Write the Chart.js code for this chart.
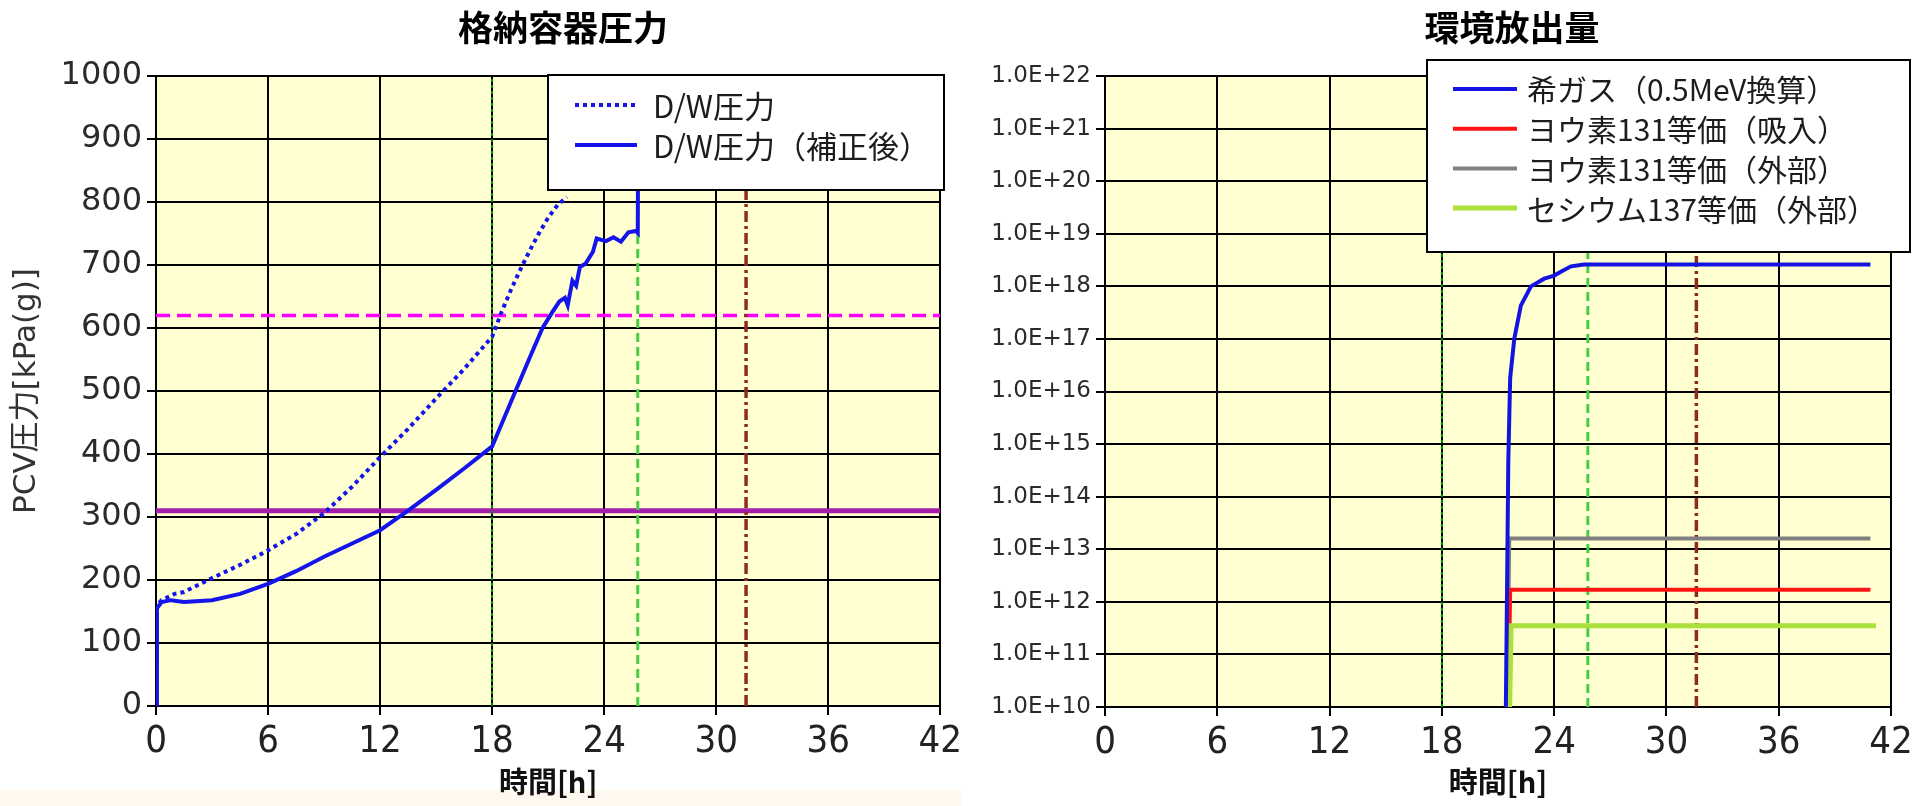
<!DOCTYPE html>
<html lang="ja">
<head>
<meta charset="utf-8">
<title>格納容器圧力・環境放出量</title>
<script src="https://cdn.jsdelivr.net/npm/chart.js@4.4.1/dist/chart.umd.min.js"></script>
<style>
  html, body { margin: 0; padding: 0; background: #ffffff; }
  body { width: 1926px; height: 806px; position: relative; overflow: hidden; }
  #band { position: absolute; left: 0; top: 790px; width: 962px; height: 16px; background: #FFF8EE; }
  .panel { position: absolute; top: 0; height: 806px; }
  #left { left: 0; width: 966px; }
  #right { left: 966px; width: 960px; }
</style>
</head>
<body>
<div id="band"></div>
<div class="panel" id="left"><canvas id="pressureChart" width="966" height="806"></canvas></div>
<div class="panel" id="right"><canvas id="releaseChart" width="960" height="806"></canvas></div>
<script>
// ---- axis ticks ----
const hourTicks = [0, 6, 12, 18, 24, 30, 36, 42];
const pressureTicks = [0, 100, 200, 300, 400, 500, 600, 700, 800, 900, 1000];
const releaseExponents = [10, 11, 12, 13, 14, 15, 16, 17, 18, 19, 20, 21, 22];

// ---- D/W pressure [kPa(g)] ----
const dwHours    = [0, 0.05, 0.3, 1.0, 1.5, 3, 4.5, 6, 7.5, 9, 10.5, 12, 13.5, 15, 16.5, 18, 18.5, 19, 19.5, 20, 20.5, 21, 21.5, 22.0];
const dwPressure = [0, 160, 168, 178, 181, 203, 224, 247, 273, 306, 348, 395, 440, 488, 535, 586, 625, 660, 692, 722, 750, 775, 795, 808];

// ---- D/W pressure, corrected [kPa(g)] ----
const dwCorrHours    = [0, 0.05, 0.3, 0.8, 1.5, 3, 4.5, 6, 7.5, 9, 10.5, 12, 13.5, 15, 16.5, 18, 19, 20, 20.7, 21.2, 21.6, 21.9, 22.05, 22.3, 22.5, 22.7, 23.0, 23.4, 23.6, 24.1, 24.5, 24.9, 25.3, 25.7, 25.8, 25.82];
const dwCorrPressure = [0, 155, 165, 168, 165, 168, 178, 194, 214, 237, 258, 279, 310, 343, 377, 412, 482, 552, 600, 624, 642, 648, 636, 675, 667, 697, 702, 721, 742, 738, 744, 737, 752, 754, 751, 900];

// ---- reference levels ----
const pressureLevels = [310, 620];      // solid / dashed horizontal lines
const eventHours = [18, 25.8, 31.6];    // dotted / dashed / dash-dot vertical lines

// ---- environmental release ----
const nobleGasHours   = [21.42, 21.48, 21.55, 21.65, 21.87, 22.22, 22.76, 23.47, 24.0, 24.36, 24.9, 25.6, 26.0, 40.9];
const nobleGasRelease = [1e10, 1.3e12, 4.7e14, 1.8e16, 1.0e17, 4.3e17, 1.0e18, 1.4e18, 1.6e18, 1.9e18, 2.4e18, 2.6e18, 2.6e18, 2.6e18];
const iodineInhHours   = [21.55, 21.65, 40.9];
const iodineInhRelease = [1e10, 1.7e12, 1.7e12];
const iodineExtHours   = [21.5, 21.6, 40.9];
const iodineExtRelease = [1e10, 1.6e13, 1.6e13];
const cesiumHours   = [21.62, 21.7, 41.2];
const cesiumRelease = [1e10, 3.5e11, 3.5e11];

const pts = (xs, ys) => xs.map((x, i) => ({ x: x, y: ys[i] }));

const CJK = "'Noto Sans CJK JP', 'Noto Sans', sans-serif";
const NARROW = "'Liberation Sans Narrow', 'DejaVu Sans Condensed', 'Liberation Sans', sans-serif";

// plot background, title and boxed legend
const panelDecor = {
  id: 'panelDecor',
  beforeDraw(chart, args, opts) {
    const { ctx, chartArea: a } = chart;
    ctx.save();
    ctx.fillStyle = opts.plotColor;
    ctx.fillRect(a.left, a.top, a.right - a.left, a.bottom - a.top);
    ctx.restore();
  },
  afterDraw(chart, args, opts) {
    const ctx = chart.ctx;
    ctx.save();
    ctx.font = opts.titleFont;
    ctx.fillStyle = '#000';
    ctx.textAlign = 'center';
    ctx.textBaseline = 'middle';
    ctx.fillText(opts.title, opts.titleX, opts.titleY);

    const b = opts.legend;
    ctx.fillStyle = '#ffffff';
    ctx.fillRect(b.x, b.y, b.w, b.h);
    ctx.lineWidth = 2;
    ctx.strokeStyle = '#000';
    ctx.strokeRect(b.x, b.y, b.w, b.h);
    chart.data.datasets.filter(d => d.inLegend).forEach((d, i) => {
      const y = b.firstRow + i * b.rowGap;
      ctx.beginPath();
      ctx.setLineDash(d.borderDash || []);
      ctx.lineWidth = d.borderWidth;
      ctx.strokeStyle = d.borderColor;
      ctx.moveTo(b.sampleX, y);
      ctx.lineTo(b.sampleX + b.sampleLen, y);
      ctx.stroke();
      ctx.setLineDash([]);
      ctx.fillStyle = '#1c1c1c';
      ctx.font = b.font;
      ctx.textAlign = 'left';
      ctx.textBaseline = 'middle';
      ctx.fillText(d.label, b.textX, y + 1);
    });
    ctx.restore();
  }
};

function hLine(v, x0, x1, color, width, dash) {
  return { data: pts([x0, x1], [v, v]), borderColor: color, borderWidth: width, borderDash: dash, order: 5 };
}
function vLine(h, y0, y1, color, width, dash) {
  return { data: pts([h, h], [y0, y1]), borderColor: color, borderWidth: width, borderDash: dash, order: 4 };
}

const eventStyles = [
  ['rgb(0,140,0)', 2, [3, 3]],
  ['rgb(70,205,70)', 3, [9, 5]],
  ['rgb(140,45,25)', 3.5, [11, 4, 3, 4]]
];

function xAxis(height) {
  return {
    type: 'linear',
    min: hourTicks[0],
    max: hourTicks[hourTicks.length - 1],
    afterBuildTicks: s => { s.ticks = hourTicks.map(v => ({ value: v })); },
    afterFit: s => { s.height = height; },
    grid: { color: '#000', lineWidth: 2, tickLength: 9 },
    border: { color: '#000', width: 2 },
    ticks: { color: '#222', padding: 4, maxRotation: 0, autoSkip: false,
             font: { family: NARROW, size: 38, lineHeight: 1.2 },
             callback: v => String(v) },
    title: { display: true, text: '時間[h]', color: '#111',
             font: { family: CJK, size: 29, weight: 'bold', lineHeight: 1.2 },
             padding: { top: 0, bottom: 7 } }
  };
}

const common = {
  type: 'line',
  options: {
    responsive: false,
    animation: false,
    events: [],
    elements: { point: { radius: 0 }, line: { tension: 0, borderCapStyle: 'butt' } },
    plugins: { legend: { display: false }, tooltip: { enabled: false } }
  }
};

// ---------- 格納容器圧力 ----------
const pressureDatasets = [
  { label: 'D/W圧力', inLegend: true, data: pts(dwHours, dwPressure),
    borderColor: 'rgb(20,20,235)', borderWidth: 4, borderDash: [4, 4], order: 1 },
  { label: 'D/W圧力（補正後）', inLegend: true, data: pts(dwCorrHours, dwCorrPressure),
    borderColor: 'rgb(20,20,235)', borderWidth: 4, order: 0 },
  hLine(pressureLevels[0], hourTicks[0], hourTicks[hourTicks.length - 1], 'rgb(165,30,170)', 5, []),
  hLine(pressureLevels[1], hourTicks[0], hourTicks[hourTicks.length - 1], 'rgb(255,0,255)', 3.5, [14, 7]),
  ...eventHours.map((h, i) => vLine(h, pressureTicks[0], pressureTicks[pressureTicks.length - 1], ...eventStyles[i]))
];

new Chart(document.getElementById('pressureChart'), {
  type: 'line',
  data: { datasets: pressureDatasets },
  options: {
    ...common.options,
    layout: { padding: { top: 76, right: 25, bottom: 0, left: 0 } },
    scales: {
      x: xAxis(100),
      y: {
        type: 'linear',
        min: pressureTicks[0],
        max: pressureTicks[pressureTicks.length - 1],
        afterBuildTicks: s => { s.ticks = pressureTicks.map(v => ({ value: v })); },
        afterFit: s => { s.width = 156; },
        grid: { color: '#000', lineWidth: 2, tickLength: 9 },
        border: { color: '#000', width: 2 },
        ticks: { color: '#2a2a2a', padding: 5, font: { family: "'DejaVu Sans', sans-serif", size: 32 },
                 callback: v => String(v) },
        title: { display: true, text: 'PCV圧力[kPa(g)]', color: '#333',
                 font: { family: "'DejaVu Sans', 'Noto Sans CJK JP', sans-serif", size: 31, lineHeight: 1.2 },
                 padding: { top: 8, bottom: 0 } }
      }
    },
    plugins: {
      ...common.options.plugins,
      panelDecor: {
        plotColor: '#FFFFD2',
        title: '格納容器圧力', titleX: 563, titleY: 28,
        titleFont: "bold 35px " + CJK,
        legend: { x: 548, y: 75, w: 396, h: 115, firstRow: 105, rowGap: 40,
                  sampleX: 575, sampleLen: 62, textX: 653, font: "31px " + CJK }
      }
    }
  },
  plugins: [panelDecor]
});

// ---------- 環境放出量 ----------
const releaseMin = Math.pow(10, releaseExponents[0]);
const releaseMax = Math.pow(10, releaseExponents[releaseExponents.length - 1]);

const releaseDatasets = [
  { label: '希ガス（0.5MeV換算）', inLegend: true, data: pts(nobleGasHours, nobleGasRelease),
    borderColor: 'rgb(20,20,225)', borderWidth: 4, order: 0 },
  { label: 'ヨウ素131等価（吸入）', inLegend: true, data: pts(iodineInhHours, iodineInhRelease),
    borderColor: 'rgb(255,20,20)', borderWidth: 4, order: 2 },
  { label: 'ヨウ素131等価（外部）', inLegend: true, data: pts(iodineExtHours, iodineExtRelease),
    borderColor: 'rgb(128,128,128)', borderWidth: 4, order: 3 },
  { label: 'セシウム137等価（外部）', inLegend: true, data: pts(cesiumHours, cesiumRelease),
    borderColor: 'rgb(170,225,60)', borderWidth: 5, order: 1 },
  ...eventHours.map((h, i) => vLine(h, releaseMin, releaseMax, ...eventStyles[i]))
];

new Chart(document.getElementById('releaseChart'), {
  type: 'line',
  data: { datasets: releaseDatasets },
  options: {
    ...common.options,
    layout: { padding: { top: 76, right: 35, bottom: 0, left: 0 } },
    scales: {
      x: xAxis(99),
      y: {
        type: 'logarithmic',
        min: releaseMin,
        max: releaseMax,
        afterBuildTicks: s => { s.ticks = releaseExponents.map(e => ({ value: Math.pow(10, e) })); },
        afterFit: s => { s.width = 139; },
        grid: { color: '#000', lineWidth: 2, tickLength: 9 },
        border: { color: '#000', width: 2 },
        ticks: { color: '#2a2a2a', padding: 5, autoSkip: false,
                 font: { family: "'DejaVu Sans', sans-serif", size: 23 },
                 callback: v => '1.0E+' + Math.round(Math.log10(v)) }
      }
    },
    plugins: {
      ...common.options.plugins,
      panelDecor: {
        plotColor: '#FFFFD2',
        title: '環境放出量', titleX: 546, titleY: 28,
        titleFont: "bold 35px " + CJK,
        legend: { x: 461, y: 60, w: 483, h: 192, firstRow: 89, rowGap: 39.7,
                  sampleX: 487, sampleLen: 64, textX: 561, font: "30px " + CJK }
      }
    }
  },
  plugins: [panelDecor]
});
</script>
</body>
</html>
